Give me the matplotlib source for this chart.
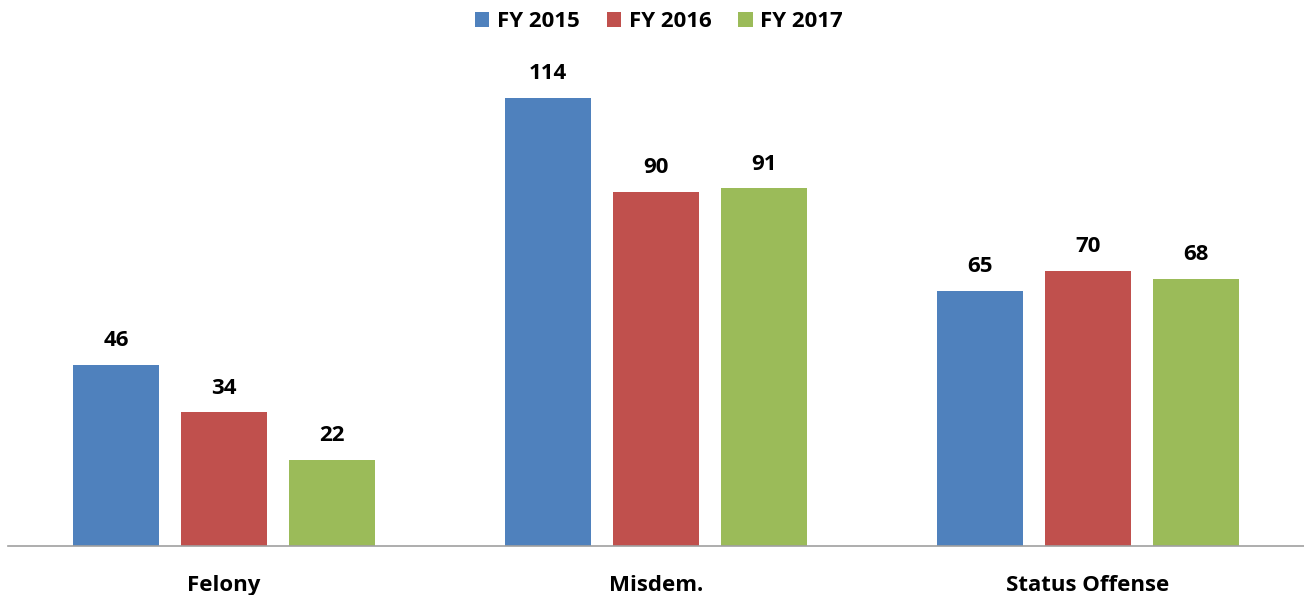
import matplotlib
matplotlib.use("Agg")
import matplotlib.pyplot as plt
import numpy as np

categories = ["Felony", "Misdem.", "Status Offense"]
series_names = ["FY 2015", "FY 2016", "FY 2017"]
fy2015 = [46, 114, 65]
fy2016 = [34, 90, 70]
fy2017 = [22, 91, 68]
colors = ["#4F81BD", "#C0504D", "#9BBB59"]

plt.rcParams['font.family'] = ['Open Sans', 'DejaVu Sans']
plt.rcParams['font.weight'] = 'bold'

fig = plt.figure(figsize=(13.04, 5.95), dpi=100)
ax = fig.add_axes([8/1304, 49/595, 1 - 8/1304, 471.6/595])

x = np.arange(len(categories))
step = 108/432
width = 86/432
for i, (vals, name, c) in enumerate(zip([fy2015, fy2016, fy2017], series_names, colors)):
    pos = x + (i - 1) * step
    bars = ax.bar(pos, vals, width=width, color=c, label=name, zorder=2)
    for b, v in zip(bars, vals):
        ax.text(b.get_x() + b.get_width()/2, v + 4.8, str(v), ha='center', va='baseline',
                fontsize=16, fontweight='bold', clip_on=False)

ax.set_xlim(-0.5, 2.5)
ax.set_ylim(0, 120)
ax.set_yticks([])
ax.set_xticks(x)
ax.set_xticklabels(categories, fontsize=16, fontweight='bold')
ax.tick_params(axis='x', length=0, pad=21)
for s in ['top', 'right', 'left']:
    ax.spines[s].set_visible(False)
ax.spines['bottom'].set_color('#A0A0A0')
ax.spines['bottom'].set_linewidth(1.2)
ax.patch.set_alpha(0)

leg = fig.legend(loc='upper center', bbox_to_anchor=(659/1304, 1.0), ncol=3, frameon=False,
                 prop={'size': 16, 'weight': 'bold'}, handlelength=0.65, handleheight=0.65,
                 handletextpad=0.35, columnspacing=1.2, borderaxespad=0.1)

fig.savefig("out.png", dpi=100)
